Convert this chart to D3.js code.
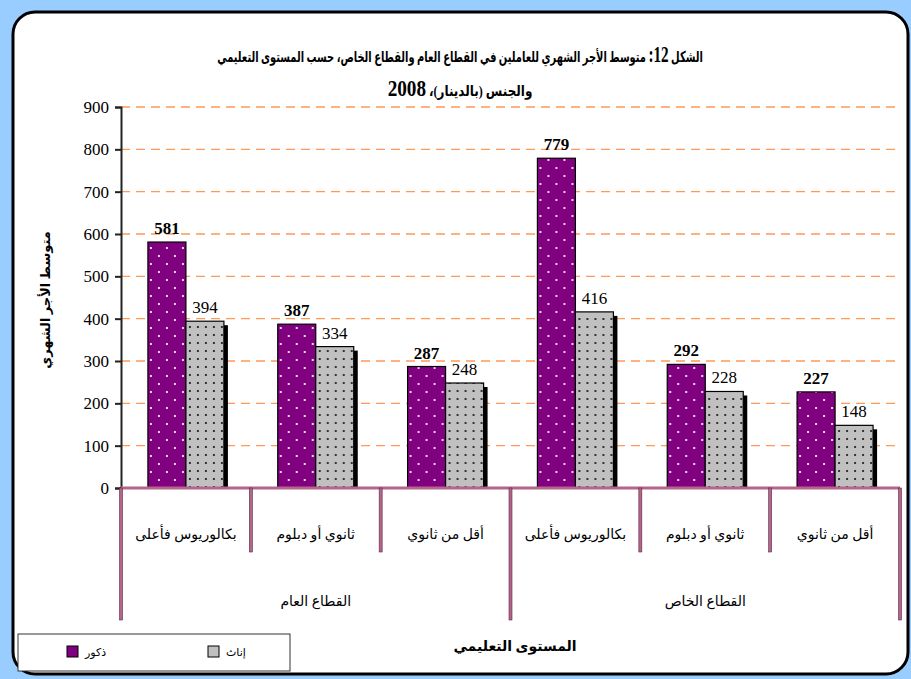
<!DOCTYPE html>
<html>
<head>
<meta charset="utf-8">
<script src="https://cdnjs.cloudflare.com/ajax/libs/d3/7.8.5/d3.min.js"></script>
<style>
  body { margin: 0; background: #99ccff; }
  text { font-family: "Liberation Serif", "DejaVu Sans", serif; }
</style>
</head>
<body>
<div id="chart"></div>
<script>
var W = 911, H = 679;

// data
var levels = ["بكالوريوس فأعلى", "ثانوي أو  دبلوم", "أقل من ثانوي"];
var sectors = ["القطاع العام", "القطاع الخاص"];
var males = [581, 387, 287, 779, 292, 227];
var females = [394, 334, 248, 416, 228, 148];
var yTicks = [0, 100, 200, 300, 400, 500, 600, 700, 800, 900];
var seriesNames = ["ذكور", "إناث"];

var margin = { top: 107, right: 11, bottom: 191, left: 121 };
var width = W - margin.left - margin.right,
    height = H - margin.top - margin.bottom;

var svg = d3.select("#chart").append("svg")
  .attr("width", W).attr("height", H);

// patterns
var defs = svg.append("defs");
var pm = defs.append("pattern").attr("id", "pm")
  .attr("patternUnits", "userSpaceOnUse").attr("width", 16).attr("height", 16);
pm.append("rect").attr("width", 16).attr("height", 16).attr("fill", "#800080");
[[4, 4], [12, 12]].forEach(function (p) {
  pm.append("rect").attr("x", p[0]).attr("y", p[1]).attr("width", 2).attr("height", 2).attr("fill", "#f0d8f0");
});
var pf = defs.append("pattern").attr("id", "pf")
  .attr("patternUnits", "userSpaceOnUse").attr("width", 8).attr("height", 8);
pf.append("rect").attr("width", 8).attr("height", 8).attr("fill", "#c0c0c0");
pf.append("rect").attr("x", 3).attr("y", 3).attr("width", 2).attr("height", 2).attr("fill", "#333");

// card
svg.append("rect")
  .attr("x", 13).attr("y", 12).attr("width", 895).attr("height", 662)
  .attr("rx", 22).attr("ry", 22)
  .attr("fill", "#fff").attr("stroke", "#000").attr("stroke-width", 3);

// title (narrowed horizontally to fit the compact Arabic face of the original)
var t1 = svg.append("g").attr("transform", "translate(460,62) scale(0.66,1)")
  .append("text").attr("x", 0).attr("y", 0)
  .attr("text-anchor", "middle").attr("font-weight", "bold")
  .attr("direction", "rtl").attr("font-size", 15);
t1.append("tspan").text("الشكل ");
t1.append("tspan").attr("font-size", 23).text("12:");
t1.append("tspan").text(" متوسط الأجر الشهري للعاملين في القطاع العام والقطاع الخاص، حسب المستوى التعليمي");
var t2 = svg.append("g").attr("transform", "translate(460,96) scale(0.8,1)")
  .append("text").attr("x", 0).attr("y", 0)
  .attr("text-anchor", "middle").attr("font-weight", "bold")
  .attr("direction", "rtl").attr("font-size", 15);
t2.append("tspan").text("والجنس (بالدينار)، ");
t2.append("tspan").attr("font-size", 24).text("2008");

var g = svg.append("g").attr("transform", "translate(" + margin.left + "," + margin.top + ")");

var x0 = d3.scaleBand().domain(d3.range(males.length)).range([0, 779]).padding(0);
var y = d3.scaleLinear().domain([0, 900]).range([height, 0]);
var bw = 38;

// gridlines
g.selectAll(".grid").data(yTicks.slice(1)).enter().append("line")
  .attr("class", "grid")
  .attr("x1", 0).attr("x2", 776)
  .attr("y1", function (d) { return y(d); }).attr("y2", function (d) { return y(d); })
  .attr("stroke", "#ff9955").attr("stroke-width", 1.3).attr("stroke-dasharray", "9,6");

// y axis
var yAxis = g.append("g").attr("class", "y axis")
  .call(d3.axisLeft(y).tickValues(yTicks).tickSize(6).tickPadding(6));
yAxis.select(".domain").attr("stroke", "#222").attr("stroke-width", 2);
yAxis.selectAll(".tick line").attr("stroke", "#222").attr("stroke-width", 2);
yAxis.selectAll("text").attr("font-size", 17).attr("fill", "#000")
  .style("font-family", "'Liberation Serif', serif");

// y title
svg.append("text")
  .attr("transform", "translate(50,300) rotate(-90)")
  .attr("text-anchor", "middle").attr("font-weight", "bold").attr("font-size", 13)
  .text("متوسط الأجر الشهري");

// bars
var groups = g.selectAll(".grp").data(d3.range(males.length)).enter().append("g")
  .attr("class", "grp")
  .attr("transform", function (i) { return "translate(" + (x0(i) + x0.bandwidth() / 2) + ",0)"; });

// shadows
groups.append("rect")
  .attr("x", 4).attr("y", function (i) { return y(females[i]) + 4; })
  .attr("width", bw).attr("height", function (i) { return height - y(females[i]) - 4; })
  .attr("fill", "#000");
groups.append("rect")
  .attr("x", -bw).attr("y", function (i) { return y(males[i]); })
  .attr("width", bw).attr("height", function (i) { return height - y(males[i]); })
  .attr("fill", "url(#pm)").attr("stroke", "#000").attr("stroke-width", 1.2);
groups.append("rect")
  .attr("x", 0).attr("y", function (i) { return y(females[i]); })
  .attr("width", bw).attr("height", function (i) { return height - y(females[i]); })
  .attr("fill", "url(#pf)").attr("stroke", "#000").attr("stroke-width", 1.2);

groups.append("text")
  .attr("x", -bw / 2).attr("y", function (i) { return y(males[i]) - 8; })
  .attr("text-anchor", "middle").attr("font-size", 17).attr("font-weight", "bold")
  .text(function (i) { return males[i]; });
groups.append("text")
  .attr("x", bw / 2).attr("y", function (i) { return y(females[i]) - 8; })
  .attr("text-anchor", "middle").attr("font-size", 17)
  .text(function (i) { return females[i]; });

// x axis baseline and separators
var sepColor = "#b5648a";
g.append("rect").attr("x", 0).attr("y", height - 1.5).attr("width", 779).attr("height", 3)
  .attr("fill", sepColor);
var seps = d3.range(males.length + 1);
g.selectAll(".sep").data(seps).enter().append("rect")
  .attr("class", "sep")
  .attr("x", function (i) { return (i < males.length ? x0(i) : 779) - 1.5; })
  .attr("y", height)
  .attr("width", 3)
  .attr("height", function (i) { return i % 3 === 0 ? 132 : 64; })
  .attr("fill", sepColor).attr("stroke", "#5a2a44").attr("stroke-width", 0.6);

// category labels
g.selectAll(".cat").data(d3.range(males.length)).enter().append("text")
  .attr("class", "cat")
  .attr("x", function (i) { return x0(i) + x0.bandwidth() / 2; })
  .attr("y", height + 51)
  .attr("text-anchor", "middle").attr("font-size", 14)
  .text(function (i) { return levels[i % 3]; });

g.selectAll(".sector").data(sectors).enter().append("text")
  .attr("class", "sector")
  .attr("x", function (d, i) { return x0(i * 3) + x0.bandwidth() * 1.5; })
  .attr("y", height + 118)
  .attr("text-anchor", "middle").attr("font-size", 14)
  .text(function (d) { return d; });

// x title
svg.append("text").attr("x", 515).attr("y", 651)
  .attr("text-anchor", "middle").attr("font-weight", "bold").attr("font-size", 14)
  .text("المستوى التعليمي");

// legend
var lg = svg.append("g");
lg.append("rect").attr("x", 18).attr("y", 634).attr("width", 272).attr("height", 37)
  .attr("fill", "#fff").attr("stroke", "#333").attr("stroke-width", 1);
var legendItems = [
  { name: seriesNames[0], fill: "#800080", x: 67 },
  { name: seriesNames[1], fill: "#c0c0c0", x: 208 }
];
legendItems.forEach(function (d) {
  lg.append("rect").attr("x", d.x).attr("y", 646).attr("width", 11).attr("height", 11)
    .attr("fill", d.fill).attr("stroke", "#000").attr("stroke-width", 1);
  lg.append("text").attr("x", d.x + 18).attr("y", 656).attr("font-size", 11)
    .attr("text-anchor", "start").text(d.name);
});
</script>
</body>
</html>
